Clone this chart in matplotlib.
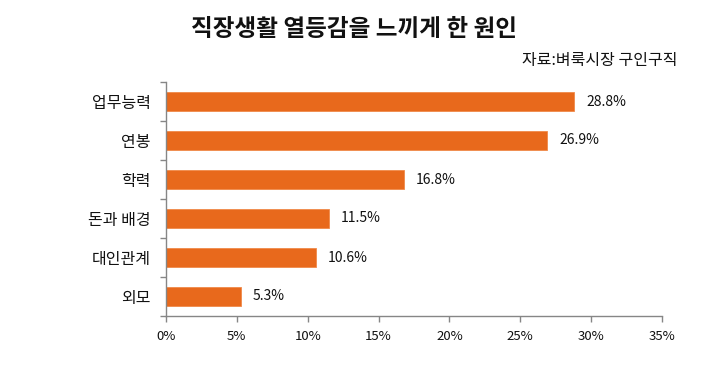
import matplotlib
matplotlib.use("Agg")
import matplotlib.pyplot as plt
import numpy as np

plt.rcParams['font.family'] = ['Noto Sans CJK KR', 'DejaVu Sans']

categories = ["업무능력", "연봉", "학력", "돈과 배경", "대인관계", "외모"]
values = [28.8, 26.9, 16.8, 11.5, 10.6, 5.3]
xticks = [0, 5, 10, 15, 20, 25, 30, 35]
xtick_labels = [f"{t}%" for t in xticks]
title = "직장생활 열등감을 느끼게 한 원인"
source = "자료:벼룩시장 구인구직"

fig = plt.figure(figsize=(7.12, 3.72), dpi=100)
ax = fig.add_axes([166/712, 1-316/372, (662-166)/712, (316-82)/372])

y = np.arange(len(categories))
bar_color = "#E8691C"
ax.barh(y, values, height=0.5, color=bar_color, edgecolor="#F08A4A", linewidth=0.6)

for yi, v in zip(y, values):
    ax.annotate(f"{v}%", xy=(v, yi), xytext=(8.5, 0), textcoords="offset points",
                va="center", ha="left", fontsize=10, color="#111111")

ax.set_xlim(0, 35)
ax.set_ylim(len(categories) - 0.5, -0.5)
ax.set_xticks(xticks)
ax.set_xticklabels(xtick_labels, fontsize=9.5)
ax.set_yticks(y)
ax.set_yticklabels(categories, fontsize=11.5)
ax.set_yticks(np.arange(-0.5, len(categories)), minor=True)

axis_gray = "#868686"
for s in ["top", "right"]:
    ax.spines[s].set_visible(False)
for s in ["left", "bottom"]:
    ax.spines[s].set_color(axis_gray)
    ax.spines[s].set_linewidth(1.0)

ax.tick_params(axis="y", which="major", length=0, pad=11, colors="#111111")
ax.tick_params(axis="y", which="minor", length=4, color=axis_gray, width=1.0)
ax.tick_params(axis="x", which="major", length=4, color=axis_gray, width=1.0,
               pad=6, labelcolor="#111111")

fig.text(354/712, 1-29/372, title, ha="center", va="center", fontsize=17,
         fontweight="bold", color="#111111")
fig.text(678/712, 1-61/372, source, ha="right", va="center", fontsize=11.5,
         color="#111111")

fig.savefig("out.png", dpi=100, facecolor="white")
